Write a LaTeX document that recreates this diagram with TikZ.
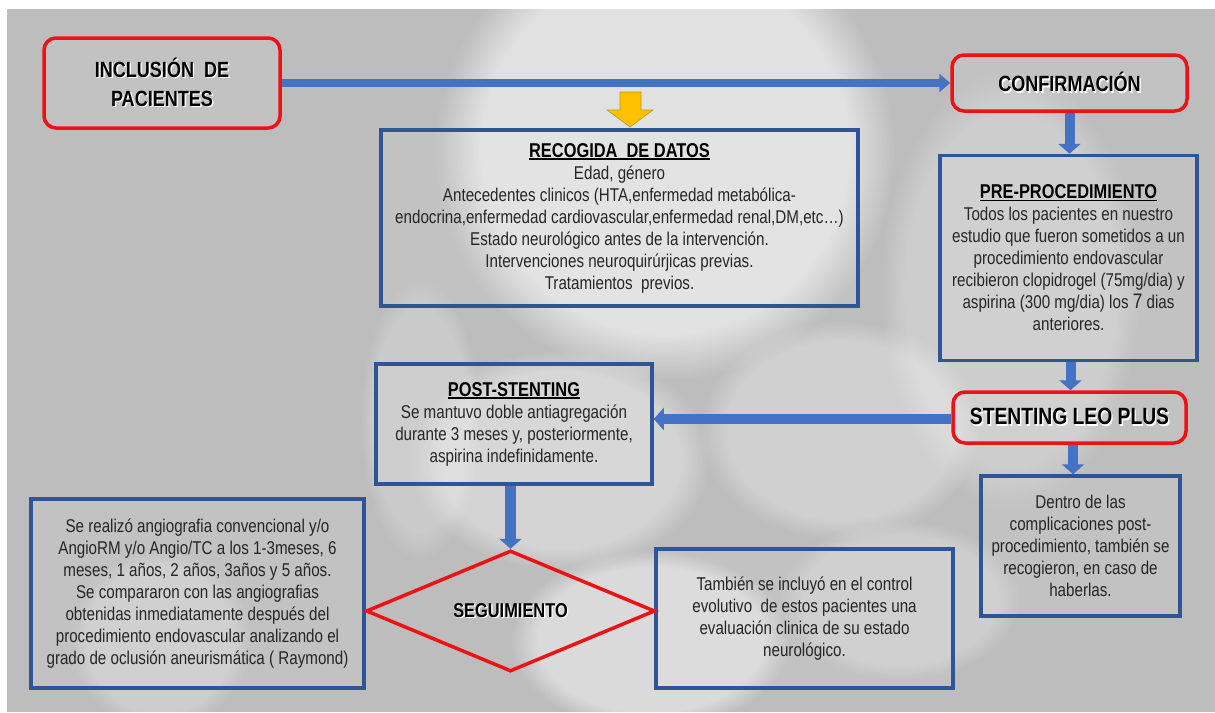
\documentclass[tikz,border=0pt]{standalone}
\usepackage{fontspec}
\setmainfont[FakeStretch=0.82]{Liberation Sans}
\usetikzlibrary{arrows.meta,shapes.geometric,fadings}

\definecolor{bgc}{RGB}{189,189,189}
\definecolor{redc}{RGB}{236,18,22}
\definecolor{bluec}{RGB}{47,85,151}
\definecolor{arrowc}{RGB}{68,114,196}
\definecolor{goldc}{RGB}{255,192,0}
\definecolor{txtc}{RGB}{38,38,38}

% heading text with a light drop shadow
\newcommand\glowtxt[1]{\rlap{\kern1.4pt\raisebox{-1.4pt}{\color{white}#1}}#1}
% underlined box title
\newcommand\titleline[1]{{\fontsize{20}{24}\selectfont\bfseries\color{black}%
  \setbox0\hbox{#1}\rlap{\rule[-2.6pt]{\wd0}{1.3pt}}\box0}}

\tikzset{
  redbox/.style={draw=redc, line width=3.5pt, rounded corners=12pt,
    fill=white, fill opacity=0.08, text opacity=1, inner sep=0pt,
    align=center, text=black,
    font=\fontsize{22}{29}\selectfont\bfseries},
  bluebox/.style={draw=bluec, line width=3.5pt,
    fill=white, fill opacity=0.08, text opacity=1, inner sep=0pt,
    align=center, text=txtc,
    font=\fontsize{18.5}{22}\selectfont},
  flow/.style={draw=arrowc, line width=10pt,
    -{Triangle[length=10pt,width=22pt]}},
  flowthin/.style={draw=arrowc, line width=8pt,
    -{Triangle[length=11pt,width=18pt]}},
  softlight/.style={fill=white, path fading=circle with fuzzy edge 20 percent}
}

\begin{document}
\begin{tikzpicture}[x=1pt,y=-1pt]
\useasboundingbox (0,0) rectangle (1215,712);
\fill[white] (0,0) rectangle (1215,712);
\fill[bgc] (7,9) rectangle (1215,712);

% soft light background forms
\begin{scope}
  \clip (7,9) rectangle (1215,712);
  \fill[softlight, fill opacity=0.55] (665,150) ellipse [x radius=230, y radius=230];
  \fill[softlight, fill opacity=0.35] (560,460) ellipse [x radius=150, y radius=110];
  \fill[softlight, fill opacity=0.45] (650,640) ellipse [x radius=140, y radius=90];
  \fill[softlight, fill opacity=0.30] (840,430) ellipse [x radius=140, y radius=110];
  \fill[softlight, fill opacity=0.25] (1010,290) ellipse [x radius=130, y radius=220];
  \fill[softlight, fill opacity=0.25] (160,640) ellipse [x radius=90, y radius=90];
  \fill[softlight, fill opacity=0.20] (420,420) ellipse [x radius=60, y radius=140];
  \fill[softlight, fill opacity=0.25] (900,600) ellipse [x radius=120, y radius=80];
\end{scope}

% process boxes
\node[redbox, minimum width=236pt, minimum height=90pt] (incl) at (162,83)
  {\glowtxt{INCLUSIÓN\ \ DE}\\\glowtxt{PACIENTES}};
\node[redbox, minimum width=235pt, minimum height=56pt] (conf) at (1069.5,83)
  {\glowtxt{CONFIRMACIÓN}};
\node[redbox, minimum width=233pt, minimum height=51pt,
  font=\fontsize{23.5}{29}\selectfont\bfseries] (sten) at (1069.5,417.5)
  {\glowtxt{STENTING LEO PLUS}};

\node[bluebox, minimum width=477pt, minimum height=176pt] (rec) at (619.5,218)
  {\titleline{RECOGIDA\ \ DE DATOS}\\
   Edad, género\\
   Antecedentes clinicos (HTA,enfermedad metabólica-\\
   endocrina,enfermedad cardiovascular,enfermedad renal,DM,etc…)\\
   Estado neurológico antes de la intervención.\\
   Intervenciones neuroquirúrjicas previas.\\
   Tratamientos\ \ previos.};

\node[bluebox, minimum width=257pt, minimum height=205pt] (pre) at (1068.5,258)
  {\titleline{PRE-PROCEDIMIENTO}\\
   Todos los pacientes en nuestro\\
   estudio que fueron sometidos a un\\
   procedimiento endovascular\\
   recibieron clopidrogel (75mg/dia) y\\
   aspirina (300 mg/dia) los {\fontsize{21}{22}\selectfont 7} dias\\
   anteriores.};

\node[bluebox, minimum width=276pt, minimum height=120pt] (post) at (514,424)
  {\titleline{POST-STENTING}\\
   Se mantuvo doble antiagregación\\
   durante 3 meses y, posteriormente,\\
   aspirina indefinidamente.};

\node[bluebox, minimum width=199pt, minimum height=140pt] (dentro) at (1080.5,546)
  {Dentro de las\\
   complicaciones post-\\
   procedimiento, también se\\
   recogieron, en caso de\\
   haberlas.};

\node[bluebox, minimum width=333pt, minimum height=189pt] (angio) at (197.5,593.5)
  {Se realizó angiografia convencional y/o\\
   AngioRM y/o Angio/TC a los 1-3meses, 6\\
   meses, 1 años, 2 años, 3años y 5 años.\\
   Se compararon con las angiografias\\
   obtenidas inmediatamente después del\\
   procedimiento endovascular analizando el\\
   grado de oclusión aneurismática ( Raymond)};

\node[bluebox, minimum width=297pt, minimum height=139pt] (clin) at (804.5,618.5)
  {También se incluyó en el control\\
   evolutivo\ \ de estos pacientes una\\
   evaluación clinica de su estado\\
   neurológico.};

\node[draw=redc, line width=3.5pt, diamond, aspect=2.39, inner sep=0pt,
  minimum width=289pt, minimum height=121pt,
  font=\fontsize{20}{24}\selectfont\bfseries] (seg) at (510.5,611)
  {\glowtxt{SEGUIMIENTO}};

% connectors
\draw[flowthin] (incl.east) -- (conf.west);
\draw[flow] (conf.south) -- (conf.south |- pre.north);
\draw[flow] ([xshift=2pt]pre.south) -- ([xshift=2pt]pre.south |- sten.north);
\draw[flow] ([xshift=3.5pt]sten.south) -- ([xshift=3.5pt]sten.south |- dentro.north);
\draw[flow] ([yshift=-1.5pt]sten.west) -- ([yshift=-1.5pt]sten.west -| post.east);
\draw[flow, line width=11pt] (seg.north |- post.south) -- (seg.north);

% yellow marker arrow under the main connector
\filldraw[fill=goldc, draw={rgb,255:red,190;green,150;blue,40}, line width=0.6pt]
  (620,92) -- (641,92) -- (641,110) -- (653,110) -- (630,127)
  -- (607,110) -- (620,110) -- cycle;
\end{tikzpicture}
\end{document}
